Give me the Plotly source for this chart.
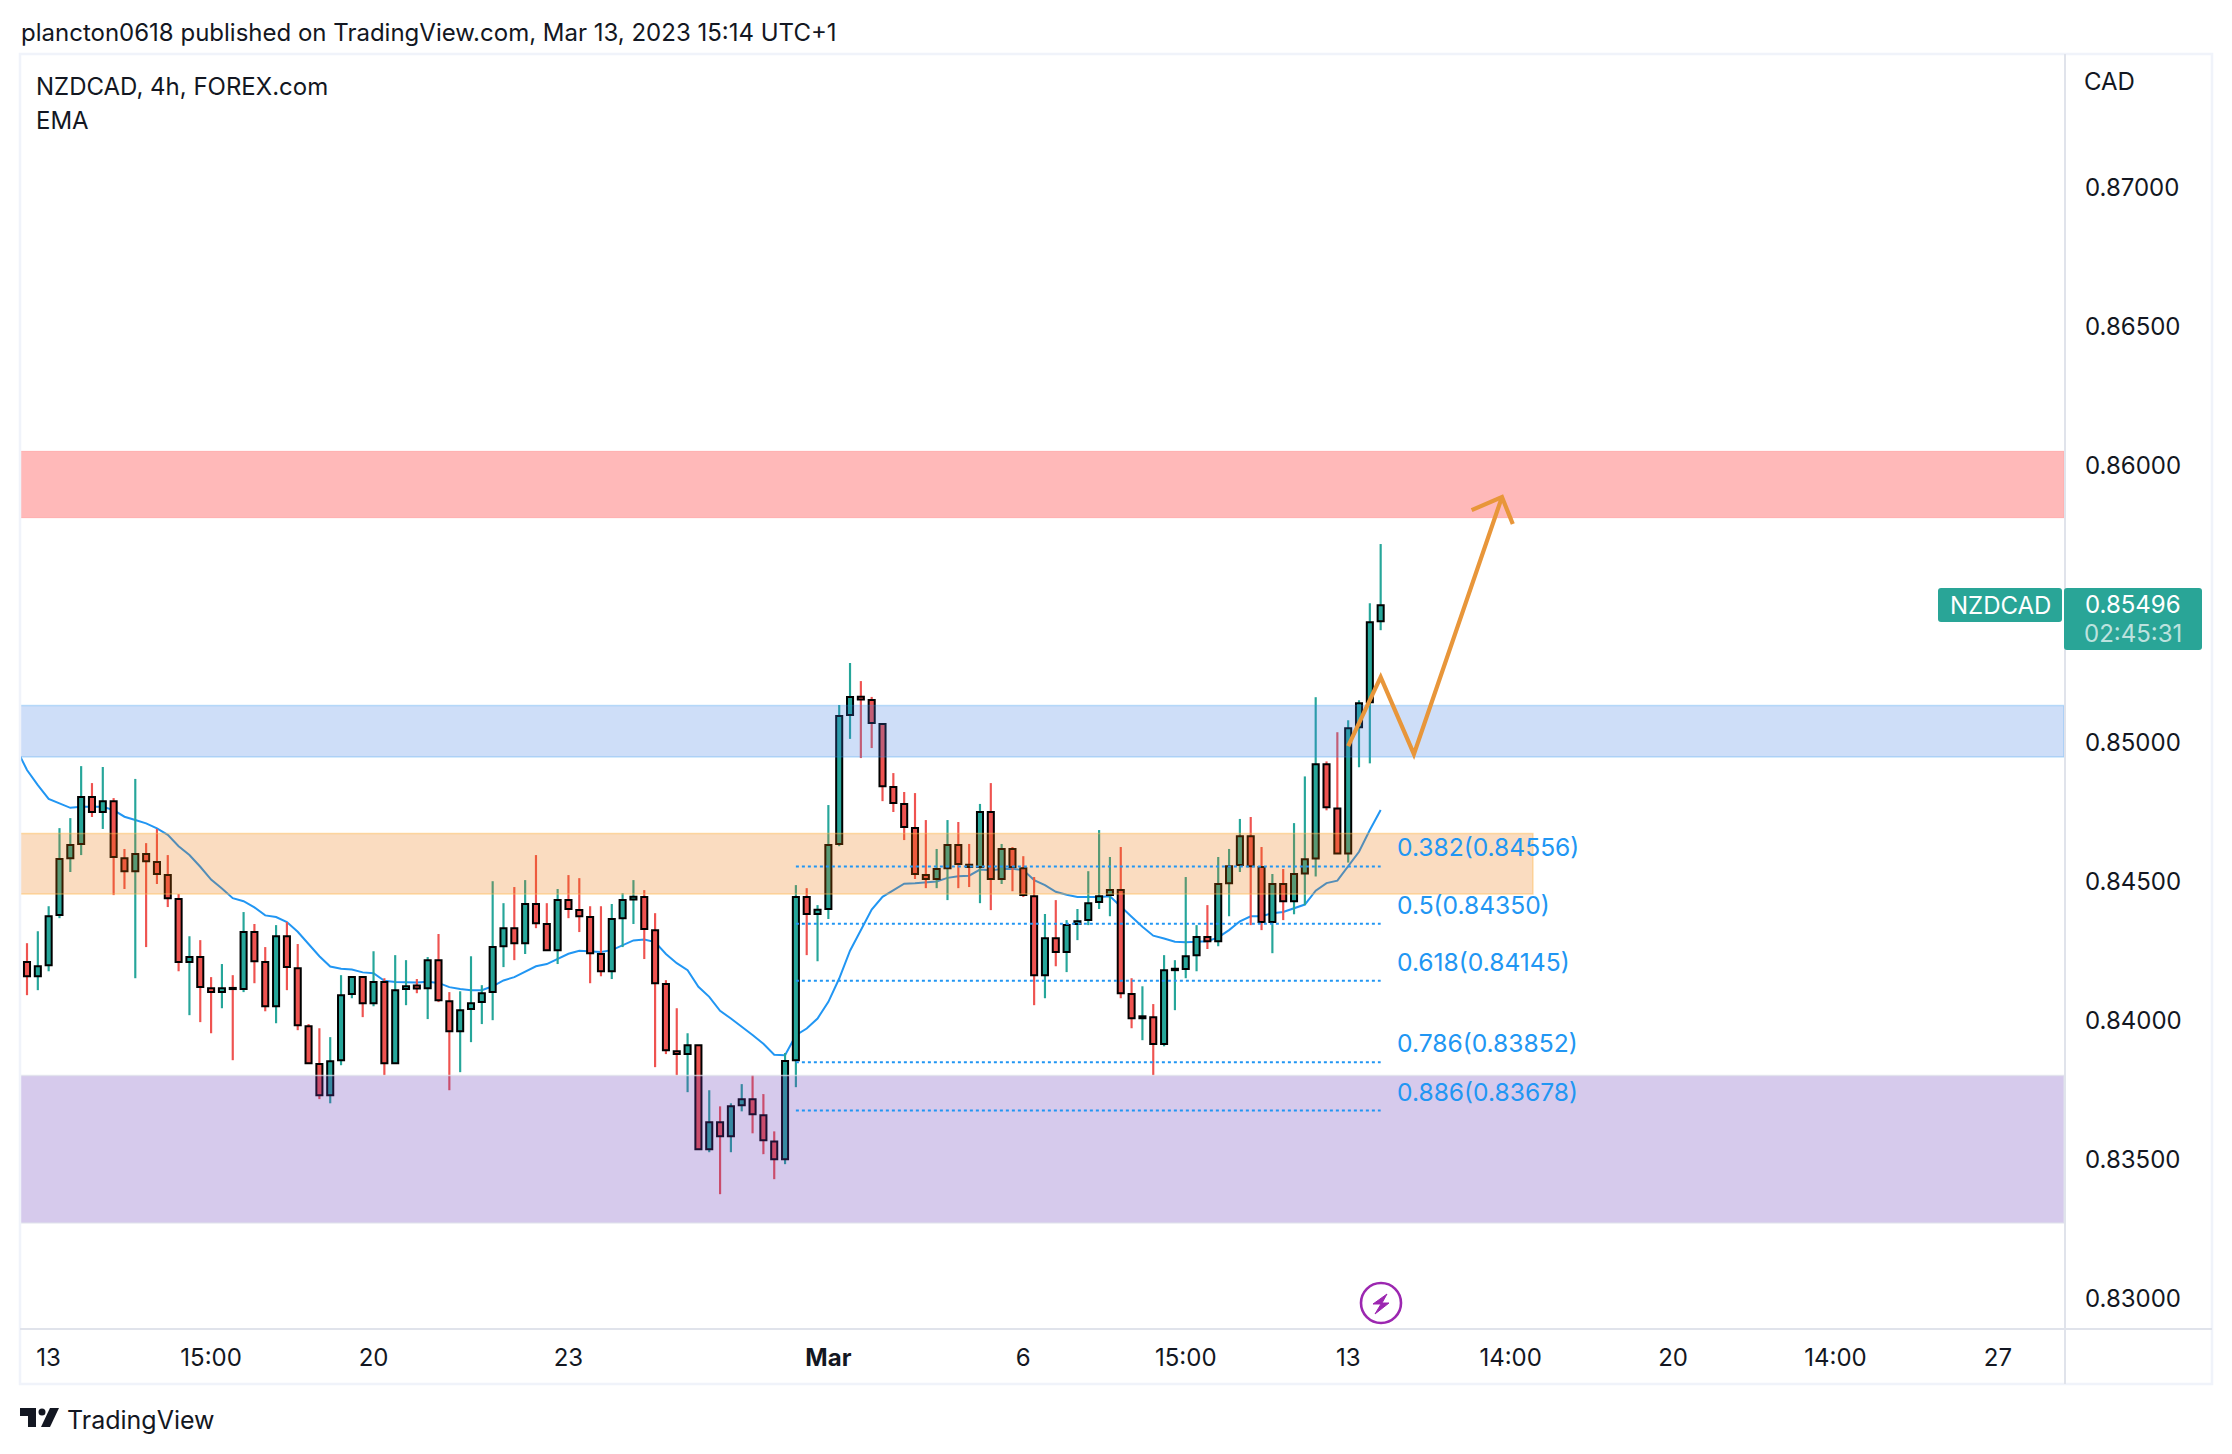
import plotly.graph_objects as go

W, H = 2232, 1454
FONT = 'Inter'
INK = '#131722'
UP = '#26A69A'
DOWN = '#EF5350'

opens = [
    0.84212, 0.84161, 0.84201, 0.84381, 0.84586, 0.84637, 0.84806, 0.84752, 0.84791, 0.84586,
    0.84539, 0.84601, 0.84572, 0.84525, 0.84439, 0.84212, 0.84230, 0.84118, 0.84104, 0.84119,
    0.84115, 0.84320, 0.84212, 0.84053, 0.84305, 0.84190, 0.83981, 0.83845, 0.83733, 0.83859,
    0.84097, 0.84158, 0.84064, 0.84140, 0.83848, 0.84115, 0.84128, 0.84118, 0.84219, 0.84071,
    0.83963, 0.84043, 0.84068, 0.84104, 0.84269, 0.84334, 0.84280, 0.84421, 0.84349, 0.84255,
    0.84435, 0.84399, 0.84374, 0.84241, 0.84179, 0.84370, 0.84437, 0.84446, 0.84327, 0.84133,
    0.83891, 0.83881, 0.83913, 0.83539, 0.83636, 0.83585, 0.83697, 0.83719, 0.83661, 0.83567,
    0.83503, 0.83859, 0.84446, 0.84385, 0.84403, 0.84637, 0.85101, 0.85167, 0.85155, 0.85069,
    0.84842, 0.84781, 0.84694, 0.84525, 0.84511, 0.84550, 0.84633, 0.84562, 0.84554, 0.84752,
    0.84511, 0.84619, 0.84550, 0.84449, 0.84165, 0.84298, 0.84248, 0.84349, 0.84363, 0.84428,
    0.84453, 0.84471, 0.84097, 0.84010, 0.84014, 0.83917, 0.84183, 0.84187, 0.84237, 0.84302,
    0.84287, 0.84496, 0.84561, 0.84665, 0.84554, 0.84356, 0.84493, 0.84431, 0.84531, 0.84585,
    0.84924, 0.84765, 0.84603, 0.85057, 0.85147, 0.85438,
]
highs = [
    0.84280, 0.84323, 0.84413, 0.84694, 0.84730, 0.84917, 0.84856, 0.84914, 0.84802, 0.84619,
    0.84871, 0.84640, 0.84691, 0.84597, 0.84457, 0.84305, 0.84291, 0.84158, 0.84205, 0.84165,
    0.84392, 0.84349, 0.84266, 0.84345, 0.84356, 0.84277, 0.83989, 0.83974, 0.83942, 0.84165,
    0.84161, 0.84161, 0.84251, 0.84154, 0.84237, 0.84219, 0.84151, 0.84230, 0.84313, 0.84104,
    0.84107, 0.84233, 0.84129, 0.84503, 0.84424, 0.84482, 0.84507, 0.84597, 0.84424, 0.84475,
    0.84525, 0.84514, 0.84413, 0.84413, 0.84421, 0.84460, 0.84507, 0.84471, 0.84388, 0.84147,
    0.84046, 0.83956, 0.83913, 0.83751, 0.83693, 0.83704, 0.83773, 0.83805, 0.83737, 0.83603,
    0.83885, 0.84489, 0.84478, 0.84417, 0.84777, 0.85137, 0.85288, 0.85223, 0.85166, 0.85069,
    0.84892, 0.84824, 0.84820, 0.84723, 0.84619, 0.84723, 0.84716, 0.84637, 0.84781, 0.84856,
    0.84637, 0.84626, 0.84593, 0.84518, 0.84385, 0.84435, 0.84363, 0.84403, 0.84539, 0.84687,
    0.84590, 0.84626, 0.84154, 0.84125, 0.84061, 0.84237, 0.84219, 0.84518, 0.84345, 0.84417,
    0.84590, 0.84619, 0.84727, 0.84734, 0.84626, 0.84529, 0.84547, 0.84712, 0.84880, 0.85165,
    0.84934, 0.85039, 0.85082, 0.85154, 0.85503, 0.85716,
]
lows = [
    0.84093, 0.84111, 0.84179, 0.84370, 0.84536, 0.84597, 0.84734, 0.84691, 0.84453, 0.84475,
    0.84154, 0.84266, 0.84493, 0.84410, 0.84179, 0.84021, 0.83996, 0.83956, 0.84046, 0.83859,
    0.84104, 0.84136, 0.84035, 0.83992, 0.84111, 0.83967, 0.83848, 0.83719, 0.83704, 0.83841,
    0.84082, 0.84014, 0.84053, 0.83805, 0.83848, 0.84057, 0.84100, 0.84007, 0.84068, 0.83751,
    0.83816, 0.83924, 0.83989, 0.84003, 0.84194, 0.84219, 0.84241, 0.84334, 0.84255, 0.84205,
    0.84370, 0.84320, 0.84136, 0.84161, 0.84151, 0.84266, 0.84349, 0.84223, 0.83834, 0.83881,
    0.83805, 0.83744, 0.83539, 0.83528, 0.83377, 0.83528, 0.83675, 0.83596, 0.83521, 0.83431,
    0.83485, 0.83762, 0.84237, 0.84215, 0.84367, 0.84629, 0.85015, 0.84946, 0.84982, 0.84791,
    0.84752, 0.84651, 0.84511, 0.84478, 0.84478, 0.84435, 0.84478, 0.84482, 0.84424, 0.84399,
    0.84493, 0.84467, 0.84446, 0.84057, 0.84082, 0.84197, 0.84176, 0.84291, 0.84345, 0.84403,
    0.84377, 0.84082, 0.83974, 0.83931, 0.83805, 0.83909, 0.84039, 0.84154, 0.84179, 0.84259,
    0.84269, 0.84377, 0.84536, 0.84345, 0.84327, 0.84244, 0.84363, 0.84384, 0.84417, 0.84520,
    0.84758, 0.84603, 0.84570, 0.84913, 0.84927, 0.85406,
]
closes = [
    0.84161, 0.84197, 0.84377, 0.84583, 0.84633, 0.84806, 0.84752, 0.84791, 0.84590, 0.84539,
    0.84601, 0.84575, 0.84529, 0.84442, 0.84212, 0.84230, 0.84122, 0.84104, 0.84118, 0.84115,
    0.84320, 0.84215, 0.84053, 0.84305, 0.84194, 0.83985, 0.83848, 0.83733, 0.83855, 0.84093,
    0.84158, 0.84064, 0.84140, 0.83848, 0.84111, 0.84125, 0.84117, 0.84219, 0.84075, 0.83963,
    0.84039, 0.84064, 0.84100, 0.84266, 0.84334, 0.84280, 0.84421, 0.84352, 0.84255, 0.84435,
    0.84403, 0.84377, 0.84244, 0.84179, 0.84367, 0.84435, 0.84447, 0.84331, 0.84136, 0.83895,
    0.83881, 0.83913, 0.83539, 0.83636, 0.83585, 0.83693, 0.83719, 0.83665, 0.83571, 0.83503,
    0.83856, 0.84446, 0.84385, 0.84400, 0.84633, 0.85097, 0.85166, 0.85157, 0.85072, 0.84845,
    0.84784, 0.84698, 0.84529, 0.84511, 0.84547, 0.84633, 0.84565, 0.84554, 0.84752, 0.84511,
    0.84619, 0.84554, 0.84453, 0.84165, 0.84298, 0.84248, 0.84345, 0.84359, 0.84424, 0.84449,
    0.84471, 0.84100, 0.84010, 0.84017, 0.83917, 0.84183, 0.84188, 0.84233, 0.84302, 0.84287,
    0.84493, 0.84557, 0.84665, 0.84557, 0.84356, 0.84493, 0.84431, 0.84529, 0.84582, 0.84924,
    0.84769, 0.84603, 0.85053, 0.85143, 0.85435, 0.85496,
]

# EMA reading per candle, the first value sits one bar left of the first candle
ema_values = [
    0.84981, 0.84903, 0.84849, 0.84799, 0.84783, 0.84767, 0.84771, 0.84771, 0.84771, 0.84759,
    0.84735, 0.84723, 0.84711, 0.84693, 0.84670, 0.84629, 0.84597, 0.84555, 0.84509, 0.84477,
    0.84442, 0.84431, 0.84409, 0.84380, 0.84374, 0.84356, 0.84321, 0.84277, 0.84233, 0.84196,
    0.84188, 0.84185, 0.84175, 0.84172, 0.84145, 0.84140, 0.84139, 0.84139, 0.84141, 0.84137,
    0.84122, 0.84115, 0.84111, 0.84111, 0.84125, 0.84146, 0.84158, 0.84179, 0.84197, 0.84205,
    0.84223, 0.84242, 0.84253, 0.84251, 0.84248, 0.84255, 0.84273, 0.84290, 0.84293, 0.84284,
    0.84241, 0.84208, 0.84183, 0.84123, 0.84087, 0.84037, 0.84009, 0.83981, 0.83950, 0.83918,
    0.83879, 0.83877, 0.83949, 0.83973, 0.84009, 0.84069, 0.84153, 0.84253, 0.84327, 0.84401,
    0.84447, 0.84471, 0.84494, 0.84496, 0.84499, 0.84502, 0.84515, 0.84521, 0.84523, 0.84545,
    0.84542, 0.84547, 0.84548, 0.84543, 0.84507, 0.84489, 0.84465, 0.84454, 0.84446, 0.84446,
    0.84446, 0.84449, 0.84411, 0.84375, 0.84339, 0.84307, 0.84297, 0.84285, 0.84283, 0.84284,
    0.84287, 0.84301, 0.84327, 0.84359, 0.84377, 0.84377, 0.84388, 0.84392, 0.84405, 0.84419,
    0.84469, 0.84496, 0.84505, 0.84557, 0.84609, 0.84687, 0.84759,
]

price_ticks = [0.83, 0.835, 0.84, 0.845, 0.85, 0.855, 0.86, 0.865, 0.87]
time_ticks = [2, 17, 32, 50, 74, 92, 107, 122, 137, 152, 167, 182]
time_labels = ['13', '15:00', '20', '23', '<b>Mar</b>', '6', '15:00', '13', '14:00', '20', '14:00', '27']

fib_ratios = ['0.382', '0.5', '0.618', '0.786', '0.886']
fib_prices = [0.84556, 0.84350, 0.84145, 0.83852, 0.83678]
fib_start, fib_end = 71, 125

# (price low, price high)
zone_red = (0.85810, 0.86051)
zone_blue = (0.84950, 0.85135)
zone_orange = (0.84457, 0.84675)
zone_purple = (0.83273, 0.83804)
orange_end = 139.06

arrow_x = [122.0, 125.0, 128.07, 136.2]
arrow_y = [0.84989, 0.85237, 0.84960, 0.85885]
head_x = [133.4, 136.2, 137.2]
head_y = [0.85838, 0.85885, 0.85788]

X_RANGE = [-0.646, 188.1]
Y_RANGE = [0.82892, 0.87479]


def px(x):
    return x / W


def py(y):
    return 1 - y / H


def paper_path(points, close=True):
    d = 'M' + ' L'.join(f'{px(x):.5f},{py(y):.5f}' for x, y in points)
    return d + (' Z' if close else '')


def rounded(x0, y0, x1, y1, r=3):
    # rectangle with small corners, paper coordinates
    a, b, c, d = px(x0), px(x1), py(y0), py(y1)
    rx, ry = r / W, r / H
    return (f'M{a+rx:.5f},{c:.5f} L{b-rx:.5f},{c:.5f} Q{b:.5f},{c:.5f} {b:.5f},{c-ry:.5f} '
            f'L{b:.5f},{d+ry:.5f} Q{b:.5f},{d:.5f} {b-rx:.5f},{d:.5f} '
            f'L{a+rx:.5f},{d:.5f} Q{a:.5f},{d:.5f} {a:.5f},{d+ry:.5f} '
            f'L{a:.5f},{c-ry:.5f} Q{a:.5f},{c:.5f} {a+rx:.5f},{c:.5f} Z')


def text(x, y, s, size=24, color=INK, anchor='left'):
    return dict(x=px(x), y=py(y), xref='paper', yref='paper', text=s, showarrow=False,
                xanchor=anchor, yanchor='middle', font=dict(family=FONT, size=size, color=color))


idx = list(range(len(opens)))
wick_colors = [UP if c >= o else DOWN for o, c in zip(opens, closes)]
body_base = [min(o, c) for o, c in zip(opens, closes)]
body_size = [abs(c - o) for o, c in zip(opens, closes)]
wick_size = [h - l for h, l in zip(highs, lows)]

fig = go.Figure()

# EMA stays on the base axis so that the candles (overlay axis) cover it
fig.add_trace(go.Scatter(
    x=list(range(-1, len(opens))), y=ema_values, mode='lines',
    line=dict(color='#2196F3', width=2), showlegend=False,
))
fig.add_trace(go.Bar(
    x=idx, y=wick_size, base=lows, width=0.2, yaxis='y2',
    marker=dict(color=wick_colors, line=dict(width=0)), showlegend=False,
))
fig.add_trace(go.Bar(
    x=idx, y=body_size, base=body_base, width=0.56, yaxis='y2',
    marker=dict(color=wick_colors, line=dict(color='#000000', width=2)), showlegend=False,
))

shapes = []
# zones sit over the candles and tint them
for (lo, hi), x1, fill, edge in [
    (zone_red, X_RANGE[1], 'rgba(255,22,22,0.30)', 'rgba(255,22,22,0.05)'),
    (zone_blue, X_RANGE[1], 'rgba(59,123,227,0.25)', 'rgba(33,150,243,0.25)'),
    (zone_orange, orange_end, 'rgba(235,115,3,0.25)', 'rgba(255,183,77,0.45)'),
    (zone_purple, X_RANGE[1], 'rgba(103,58,183,0.27)', 'rgba(224,227,235,0.7)'),
]:
    shapes.append(dict(type='rect', xref='x', yref='y', x0=X_RANGE[0], x1=x1, y0=lo, y1=hi,
                       fillcolor=fill, line=dict(color=edge, width=1.5), layer='above'))

for p in fib_prices:
    shapes.append(dict(type='line', xref='x', yref='y', x0=fib_start, x1=fib_end, y0=p, y1=p,
                       line=dict(color='#2196F3', width=2, dash='dot'), layer='above'))

for xs, ys in [(arrow_x, arrow_y), (head_x, head_y)]:
    d = 'M' + ' L'.join(f'{x},{y}' for x, y in zip(xs, ys))
    shapes.append(dict(type='path', xref='x', yref='y', path=d,
                       line=dict(color='#E8963A', width=4.2), layer='above'))

# frame
shapes += [
    dict(type='rect', xref='paper', yref='paper', x0=px(20), x1=px(2212), y0=py(1384), y1=py(54),
         line=dict(color='#F0F3FA', width=2.5), layer='above'),
    dict(type='line', xref='paper', yref='paper', x0=px(20), x1=px(2212), y0=py(1329), y1=py(1329),
         line=dict(color='#E0E3EB', width=2), layer='above'),
    dict(type='line', xref='paper', yref='paper', x0=px(2065), x1=px(2065), y0=py(1384), y1=py(54),
         line=dict(color='#E0E3EB', width=2), layer='above'),
]

# last price tags
shapes += [
    dict(type='path', xref='paper', yref='paper', path=rounded(1938, 588, 2062, 622),
         fillcolor='#29A597', line=dict(width=0), layer='above'),
    dict(type='path', xref='paper', yref='paper', path=rounded(2064, 588, 2202, 650),
         fillcolor='#29A597', line=dict(width=0), layer='above'),
]

# lightning badge
shapes += [
    dict(type='circle', xref='paper', yref='paper', x0=px(1361), x1=px(1401), y0=py(1323), y1=py(1283),
         line=dict(color='#9C27B0', width=2.6), layer='above'),
    dict(type='path', xref='paper', yref='paper', fillcolor='#9C27B0', line=dict(color='#9C27B0', width=1),
         path=paper_path([(1387, 1294), (1373, 1304), (1381, 1304), (1375, 1314), (1389, 1303), (1382, 1303)]),
         layer='above'),
]

# TradingView logo
shapes += [
    dict(type='path', xref='paper', yref='paper', fillcolor=INK, line=dict(width=0), layer='above',
         path=paper_path([(20, 1408), (36, 1408), (36, 1427), (28, 1427), (28, 1416), (20, 1416)])),
    dict(type='circle', xref='paper', yref='paper', fillcolor=INK, line=dict(width=0), layer='above',
         x0=px(38.5), x1=px(45.5), y0=py(1415.5), y1=py(1408.5)),
    dict(type='path', xref='paper', yref='paper', fillcolor=INK, line=dict(width=0), layer='above',
         path=paper_path([(50, 1408), (59, 1408), (50, 1427), (41, 1427)])),
]

annotations = [
    text(18.5, 32, 'plancton0618 published on TradingView.com, Mar 13, 2023 15:14 UTC+1'),
    text(34, 86, 'NZDCAD, 4h, FOREX.com'),
    text(34, 120, 'EMA'),
    text(2082, 81, 'CAD'),
    text(64.5, 1420, 'TradingView', size=25),
    text(2000, 605, 'NZDCAD', color='#FFFFFF', anchor='center'),
    text(2133, 604, '0.85496', color='#FFFFFF', anchor='center'),
    text(2133, 633, '02:45:31', color='rgba(255,255,255,0.7)', anchor='center'),
]
for ratio, p in zip(fib_ratios, fib_prices):
    annotations.append(dict(
        x=fib_end + 1.32, y=p, xref='x', yref='y', yshift=19, text=f'{ratio}({p:.5f})',
        showarrow=False, xanchor='left', yanchor='middle',
        font=dict(family=FONT, size=24.6, color='#2196F3'),
    ))

fig.update_layout(
    width=W, height=H,
    margin=dict(l=0, r=0, t=0, b=0),
    paper_bgcolor='#FFFFFF', plot_bgcolor='#FFFFFF',
    barmode='overlay',
    font=dict(family=FONT, size=24, color=INK),
    xaxis=dict(
        domain=[px(20), px(2064)], range=X_RANGE, tickmode='array',
        tickvals=time_ticks, ticktext=time_labels, showgrid=False, zeroline=False,
        showline=False, ticks='', ticklabelstandoff=12,
    ),
    yaxis=dict(
        domain=[py(1329), py(54)], range=Y_RANGE, side='right', anchor='x',
        tickmode='array', tickvals=price_ticks, tickformat='.5f',
        showgrid=False, zeroline=False, showline=False, ticks='', ticklabelstandoff=20,
    ),
    yaxis2=dict(
        domain=[py(1329), py(54)], range=Y_RANGE, overlaying='y', anchor='x', visible=False,
    ),
    shapes=shapes,
    annotations=annotations,
)

fig.write_html("out.html", config={'displayModeBar': False},
               post_script="document.body.style.margin='0';")
